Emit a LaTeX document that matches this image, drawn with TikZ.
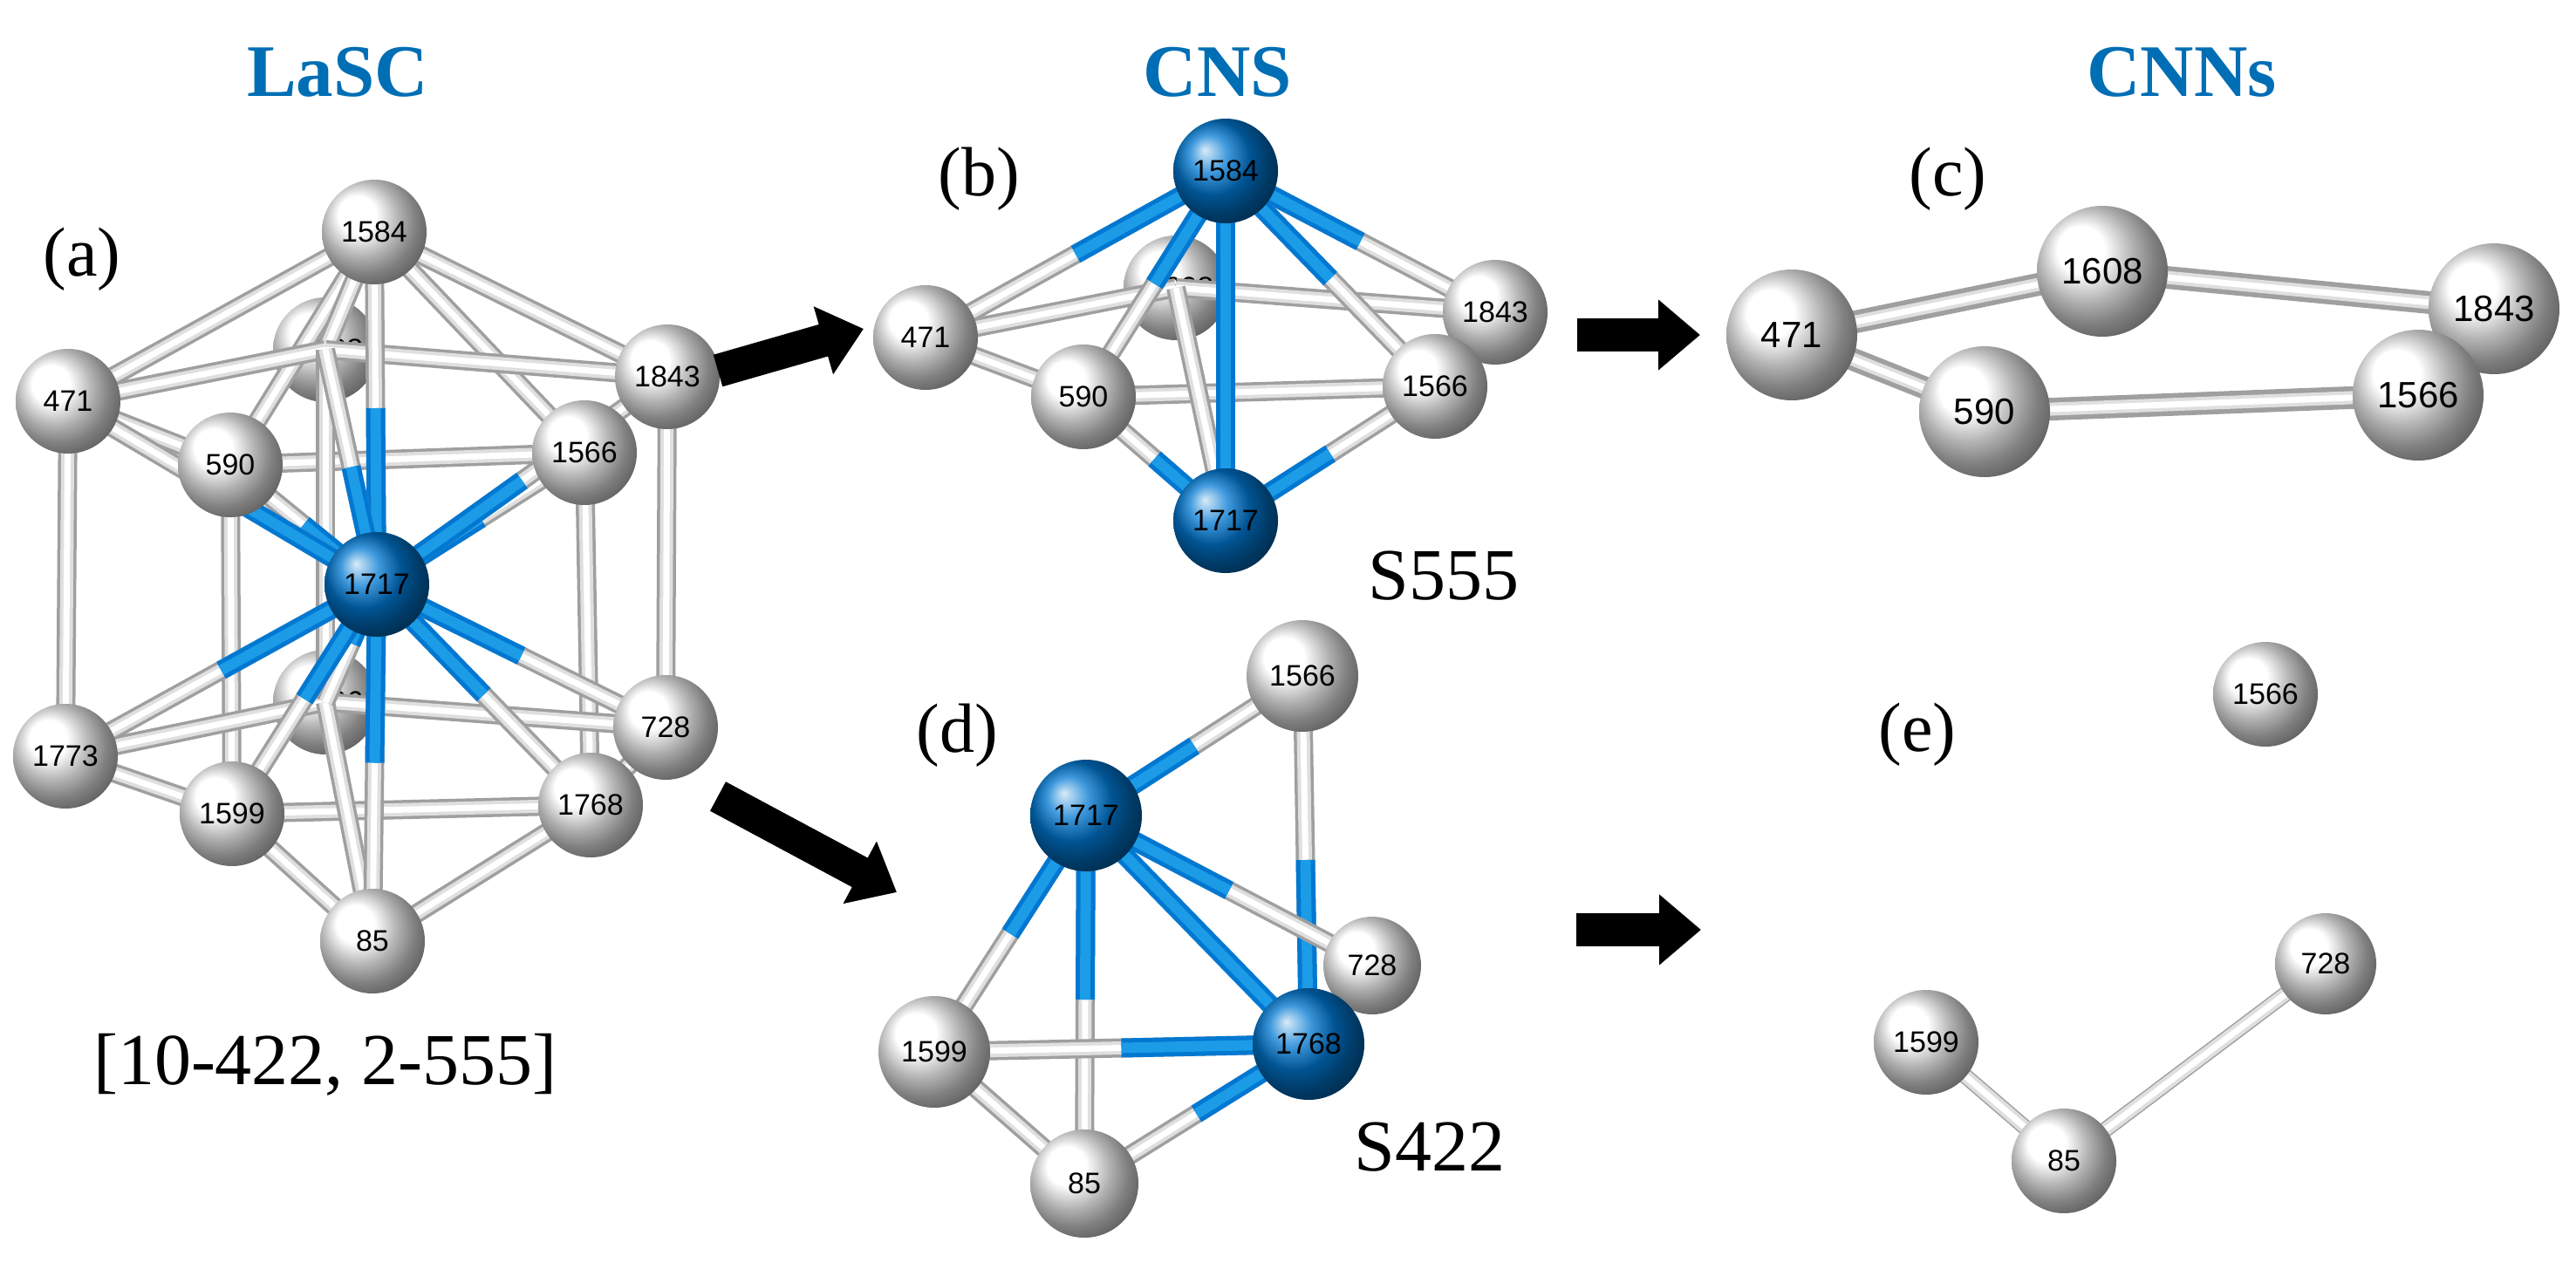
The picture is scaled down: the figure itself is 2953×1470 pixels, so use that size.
\documentclass[tikz,border=0pt]{standalone}
\usepackage{fontspec}
\setmainfont{Liberation Serif}
\setsansfont{Liberation Sans}
\usetikzlibrary{calc,arrows.meta,shadings}
\definecolor{ttl}{RGB}{0,110,180}
\definecolor{bl}{RGB}{0,120,210}
\definecolor{blt}{RGB}{40,170,240}
\pgfdeclarelayer{back}\pgfdeclarelayer{bg}
\pgfsetlayers{back,bg,main}
\begin{document}
\begin{tikzpicture}[x=1pt,y=-1pt,
  atom/.style={circle,ball color=white,inner sep=0pt,minimum size=120pt,font=\sffamily\fontsize{34}{34}\selectfont},
  batom/.style={atom,ball color=bl},
  big/.style={minimum size=150pt,font=\sffamily\fontsize{42}{42}\selectfont},
  bond/.style={line width=22pt,draw=gray!75,postaction={draw=gray!25,line width=15pt},postaction={draw=white,line width=7pt}},
  bbond/.style={line width=22pt,draw=bl,postaction={draw=blt!70!bl,line width=12pt}},
  ttlf/.style={text=ttl,font=\bfseries\fontsize{85}{90}\selectfont},
  lab/.style={font=\fontsize{80}{85}\selectfont},
  arr/.style={line width=38pt,-{Triangle[length=48pt,width=78pt]}}]
\useasboundingbox (0,0) rectangle (2953,1470);
% titles and labels
\node[ttlf] (tA) at (387,83) {LaSC};
\node[ttlf] (tB) at (1396,83) {CNS};
\node[ttlf] (tC) at (2501,83) {CNNs};
\node[lab] (la) at (94,297) {(a)};
\node[lab] (lb) at (1122,205) {(b)};
\node[lab] (lc) at (2233,205) {(c)};
\node[lab] (ld) at (1097,843) {(d)};
\node[lab] (le) at (2198,842) {(e)};
\node[lab,font=\fontsize{84}{90}\selectfont] (ta) at (373,1221) {[10-422, 2-555]};
\node[lab,font=\fontsize{84}{90}\selectfont] (tb) at (1655,660) {S555};
\node[lab,font=\fontsize{84}{90}\selectfont] (td) at (1639,1315) {S422};
% panel a atoms
\begin{pgfonlayer}{back}
\node[atom] (a608) at (373,401) {\hspace*{30pt}608};
\node[atom] (a606) at (373,805) {\hspace*{30pt}606};
\node[atom] (b608) at (1348,330) {\hspace*{30pt}608};
\end{pgfonlayer}
\node[atom] (a1584) at (429,266) {1584};
\node[atom] (a471) at (78,460) {471};
\node[atom] (a1843) at (765,432) {1843};
\node[atom] (a1773) at (75,867) {1773};
\node[atom] (a728) at (763,834) {728};
\node[atom] (a590) at (264,533) {590};
\node[atom] (a1566) at (670,519) {1566};
\node[batom] (a1717) at (432,670) {1717};
\node[atom] (a1599) at (266,933) {1599};
\node[atom] (a1768) at (677,923) {1768};
\node[atom] (a85) at (427,1079) {85};
% panel b
\node[atom] (b471) at (1061,387) {471};
\node[atom] (b1843) at (1714,358) {1843};
\node[atom] (b590) at (1242,455) {590};
\node[atom] (b1566) at (1645,443) {1566};
\node[batom] (b1584) at (1405,196) {1584};
\node[batom] (b1717) at (1405,597) {1717};
% panel c
\node[atom,big] (c1608) at (2410,311) {1608};
\node[atom,big] (c1843) at (2859,354) {1843};
\node[atom,big] (c471) at (2054,384) {471};
\node[atom,big] (c590) at (2275,472) {590};
\node[atom,big] (c1566) at (2772,453) {1566};
% panel d
\node[atom,minimum size=128pt] (d1566) at (1493,775) {1566};
\node[atom,minimum size=112pt] (d728) at (1573,1107) {728};
\node[batom,minimum size=128pt] (d1717) at (1245,935) {1717};
\node[atom,minimum size=128pt] (d1599) at (1071,1206) {1599};
\node[batom,minimum size=128pt] (d1768) at (1500,1197) {1768};
\node[atom,minimum size=124pt] (d85) at (1243,1357) {85};
% panel e
\node[atom] (e1566) at (2597,796) {1566};
\node[atom,minimum size=116pt] (e728) at (2666,1105) {728};
\node[atom] (e1599) at (2208,1195) {1599};
\node[atom] (e85) at (2366,1331) {85};
\begin{pgfonlayer}{bg}
% panel a bonds
\foreach \p/\q in {a1584/a471,a1584/a590,a1584/a1843,a1584/a1566,a1584/a608,a471/a608,a471/a590,a471/a1773,a608/a1843,a590/a1566,a590/a1599,a1566/a1768,a1843/a728,a608/a606,a1773/a606,a1773/a1599,a606/a728,a1599/a1768,a1599/a85,a1768/a85,a606/a85,a1768/a728}
  \draw[bond] (\p.center) -- (\q.center);
\foreach \q in {a1584,a590,a1566,a471,a1843,a608,a606,a1773,a728,a1599,a1768,a85}{
  \draw[bond] (a1717.center) -- (\q.center);
  \draw[bbond] (a1717.center) -- ($(a1717.center)!0.5!(\q.center)$);}
% panel b bonds
\foreach \p/\q in {b471/b608,b471/b590,b608/b1843,b590/b1566,b1843/b1566,b608/b1717}
  \draw[bond] (\p.center) -- (\q.center);
\foreach \p/\q in {b1584/b471,b1584/b590,b1584/b1843,b1584/b1566,b1717/b590,b1717/b1566}{
  \draw[bond] (\p.center) -- (\q.center);
  \draw[bbond] (\p.center) -- ($(\p.center)!0.5!(\q.center)$);}
\draw[bbond] (b1584.center) -- (b1717.center);
% panel d bonds
\foreach \p/\q in {d1599/d85,d728/d1768}
  \draw[bond] (\p.center) -- (\q.center);
\foreach \p/\q in {d1717/d1566,d1768/d1566,d1717/d1599,d1717/d85,d1717/d728,d1768/d1599,d1768/d85}{
  \draw[bond] (\p.center) -- (\q.center);
  \draw[bbond] (\p.center) -- ($(\p.center)!0.5!(\q.center)$);}
\draw[bbond] (d1717.center) -- (d1768.center);
% panel c, e bonds
\foreach \p/\q in {c471/c1608,c471/c590,c1608/c1843,c1843/c1566,c590/c1566}
  \draw[bond,line width=26pt] (\p.center) -- (\q.center);
\foreach \p/\q in {e1599/e85,e85/e728}
  \draw[bond,line width=18pt] (\p.center) -- (\q.center);
\end{pgfonlayer}
% arrows
\coordinate (r1s) at (823,425); \coordinate (r1e) at (990,377);
\coordinate (r2s) at (1808,384); \coordinate (r2e) at (1949,384);
\coordinate (r3s) at (823,913); \coordinate (r3e) at (1028,1023);
\coordinate (r4s) at (1807,1066); \coordinate (r4e) at (1950,1066);
\draw[arr] (r1s) -- (r1e);
\draw[arr] (r2s) -- (r2e);
\draw[arr] (r3s) -- (r3e);
\draw[arr] (r4s) -- (r4e);
\end{tikzpicture}
\end{document}
